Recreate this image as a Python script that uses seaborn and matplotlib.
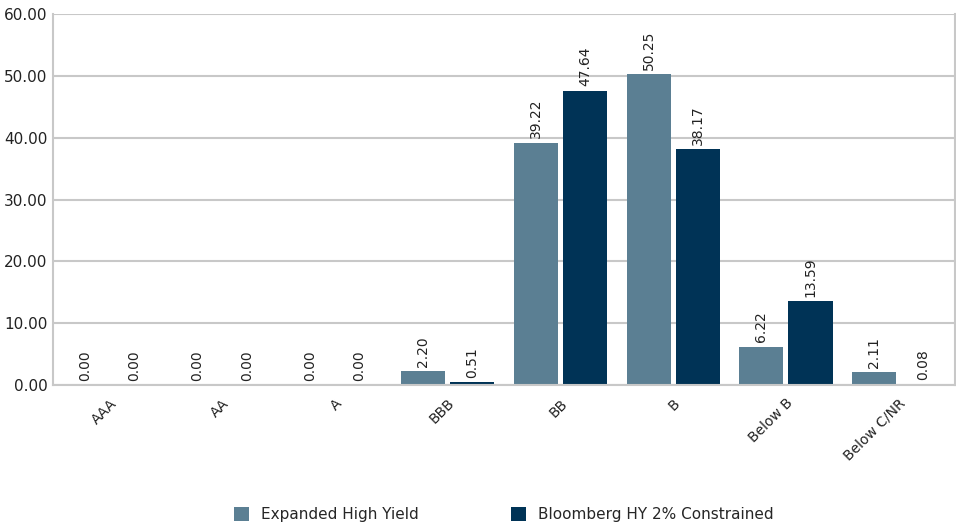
import pandas as pd
import matplotlib.pyplot as plt
import seaborn as sns

categories = ['AAA', 'AA', 'A', 'BBB', 'BB', 'B', 'Below B', 'Below C/NR']
expanded = [0.00, 0.00, 0.00, 2.20, 39.22, 50.25, 6.22, 2.11]
bloomberg = [0.00, 0.00, 0.00, 0.51, 47.64, 38.17, 13.59, 0.08]
series = ['Expanded High Yield', 'Bloomberg HY 2% Constrained']
colors = ['#5b7f93', '#003356']

df = pd.DataFrame({
    'rating': categories * 2,
    'value': expanded + bloomberg,
    'series': [series[0]] * len(categories) + [series[1]] * len(categories),
})

sns.set_style('white')
plt.rcParams['font.family'] = ['DejaVu Sans']

fig = plt.figure(figsize=(9.56, 5.27), dpi=100)
ax = fig.add_axes([0.0554, 0.2694, 0.9436, 0.7036])

sns.barplot(data=df, x='rating', y='value', hue='series', palette=colors,
            width=0.87, gap=0.1, ax=ax, legend=True, saturation=1, linewidth=0)

for c in ax.containers:
    ax.bar_label(c, fmt='%.2f', rotation=90, padding=3, fontsize=10, color='#222222')

ax.set_ylim(0, 60)
ax.set_yticks(range(0, 61, 10))
ax.set_yticklabels([f'{v:.2f}' for v in range(0, 61, 10)], fontsize=11, color='#222222')
ax.set_xlim(-0.5, len(categories) - 0.5)
ax.set_xticks(range(len(categories)))
ax.set_xticklabels(categories, rotation=45, fontsize=10, color='#222222',
                   ha='right', rotation_mode='anchor')
ax.tick_params(axis='x', pad=8, length=0)
ax.tick_params(axis='y', length=0, pad=4)
ax.set_xlabel('')
ax.set_ylabel('')
ax.yaxis.grid(True, color='#c8c8c8', linewidth=1.5)
ax.set_axisbelow(True)
for s in ['left', 'bottom', 'right', 'top']:
    ax.spines[s].set_color('#c8c8c8')
    ax.spines[s].set_linewidth(1.5)
ax.spines['top'].set_visible(False)

ax.legend(loc='center', bbox_to_anchor=(0.5, -0.35), ncol=2, frameon=False,
          fontsize=11, handlelength=1, handleheight=1, columnspacing=6)

fig.savefig('out.png', dpi=100)
